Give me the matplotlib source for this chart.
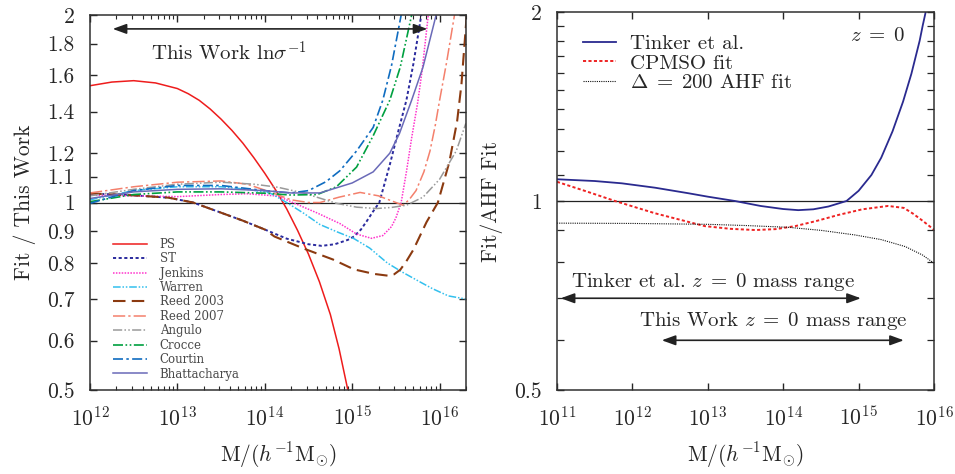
import matplotlib
matplotlib.use("Agg")
import matplotlib.pyplot as plt
import numpy as np
from matplotlib.ticker import FixedLocator, NullLocator, NullFormatter, LogLocator

plt.rcParams.update(
    {
        "font.family": "serif",
        "font.serif": ["cmr10", "DejaVu Serif"],
        "mathtext.fontset": "cm",
        "axes.formatter.use_mathtext": True,
        "axes.unicode_minus": False,
        "font.size": 15,
        "text.color": "#262626",
        "axes.labelcolor": "#262626",
        "xtick.color": "#262626",
        "ytick.color": "#262626",
        "axes.edgecolor": "#303030",
        "axes.linewidth": 1.1,
    }
)

# ---- left panel: fit / this work ratio (x = log10 M) ----
ps_x = [12.0, 12.25, 12.5, 12.75, 13.0, 13.125, 13.25, 13.375, 13.5, 13.625, 13.75, 13.875,
        14.0, 14.125, 14.25, 14.375, 14.5, 14.625, 14.75, 14.85, 14.95]
ps_y = [1.540, 1.561, 1.569, 1.556, 1.524, 1.495, 1.459, 1.413, 1.361, 1.305, 1.245, 1.180,
        1.114, 1.047, 0.977, 0.902, 0.826, 0.746, 0.661, 0.582, 0.50]

st_x = [12.0, 12.5, 12.9, 13.18, 13.5, 13.75, 14.0, 14.25, 14.5, 14.65, 14.8, 14.95, 15.02,
        15.1, 15.17, 15.24, 15.31, 15.43, 15.52, 15.62, 15.7, 15.77, 15.79]
st_y = [1.034, 1.027, 1.018, 1.0, 0.963, 0.935, 0.905, 0.875, 0.857, 0.852, 0.857, 0.871, 0.882,
        0.905, 0.935, 0.968, 1.0, 1.15, 1.29, 1.46, 1.67, 1.92, 2.0]

jenkins_x = [12.0, 12.5, 13.0, 13.5, 13.8, 14.15, 14.32, 14.6, 14.86, 15.05, 15.22, 15.35, 15.45,
             15.5, 15.56, 15.62, 15.68, 15.75, 15.8, 15.87]
jenkins_y = [1.028, 1.025, 1.022, 1.03, 1.033, 1.024, 1.0, 0.962, 0.925, 0.89, 0.876, 0.885, 0.915,
             0.945, 1.0, 1.12, 1.27, 1.45, 1.63, 2.0]

warren_x = [12.0, 12.5, 13.0, 13.5, 13.8, 14.06, 14.25, 14.45, 14.63, 14.82, 15.02, 15.2, 15.4,
            15.56, 15.78, 15.92, 16.1, 16.3]
warren_y = [1.01, 1.045, 1.06, 1.06, 1.05, 1.036, 1.0, 0.96, 0.922, 0.898, 0.875, 0.845, 0.80,
            0.775, 0.745, 0.727, 0.708, 0.70]

reed03_x = [12.0, 12.5, 12.9, 13.18, 13.5, 13.75, 14.0, 14.11, 14.45, 14.78, 15.02, 15.25, 15.41,
            15.48, 15.55, 15.62, 15.7, 15.85, 15.98, 16.11, 16.2, 16.25, 16.31]
reed03_y = [1.034, 1.027, 1.018, 1.0, 0.963, 0.935, 0.905, 0.882, 0.843, 0.81, 0.781, 0.768, 0.763,
            0.767, 0.78, 0.805, 0.84, 0.93, 1.0, 1.16, 1.35, 1.55, 2.0]

reed07_x = [12.0, 12.5, 13.0, 13.5, 13.8, 14.06, 14.3, 14.5, 14.63, 14.85, 15.09, 15.3, 15.5,
            15.58, 15.65, 15.73, 15.82, 15.89, 15.95, 16.0, 16.08, 16.17]
reed07_y = [1.036, 1.06, 1.078, 1.083, 1.07, 1.04, 1.01, 1.0, 1.0, 1.02, 1.038, 1.025, 1.0,
            0.99, 1.01, 1.045, 1.12, 1.21, 1.33, 1.46, 1.68, 2.0]

angulo_x = [12.0, 12.5, 13.0, 13.5, 13.88, 14.15, 14.44, 14.82, 15.05, 15.28, 15.45, 15.62, 15.81,
            16.0, 16.19, 16.3]
angulo_y = [1.025, 1.05, 1.07, 1.078, 1.07, 1.058, 1.036, 0.997, 0.983, 0.978, 0.982, 0.99, 1.02,
            1.09, 1.21, 1.34]

crocce_x = [12.0, 12.5, 13.0, 13.5, 14.0, 14.3, 14.6, 14.82, 15.05, 15.24, 15.43, 15.55, 15.68]
crocce_y = [1.003, 1.03, 1.04, 1.04, 1.035, 1.028, 1.03, 1.06, 1.14, 1.28, 1.46, 1.65, 2.0]

courtin_x = [12.0, 12.5, 13.0, 13.5, 14.0, 14.3, 14.5, 14.7, 14.86, 15.05, 15.24, 15.35, 15.45, 15.56]
courtin_y = [0.997, 1.045, 1.065, 1.065, 1.045, 1.036, 1.045, 1.08, 1.125, 1.21, 1.32, 1.46, 1.66, 2.0]

bhatt_x = [12.0, 12.5, 13.0, 13.5, 14.0, 14.3, 14.63, 14.86, 15.0, 15.24, 15.43, 15.54, 15.68,
           15.81, 15.92, 15.96]
bhatt_y = [1.015, 1.04, 1.05, 1.052, 1.045, 1.036, 1.036, 1.06, 1.075, 1.12, 1.2, 1.29, 1.46,
           1.65, 1.9, 2.0]

left_yticks = [0.5, 0.6, 0.7, 0.8, 0.9, 1, 1.1, 1.2, 1.4, 1.6, 1.8, 2]
left_yticklabels = ["0.5", "0.6", "0.7", "0.8", "0.9", "1", "1.1", "1.2", "1.4", "1.6", "1.8", "2"]

# ---- right panel: fit / AHF fit ----
tinker_x = [11.0, 11.5, 11.86, 12.3, 12.74, 13.0, 13.36, 13.7, 14.0, 14.2, 14.4, 14.6, 14.84,
            15.0, 15.17, 15.3, 15.45, 15.59, 15.7, 15.81, 15.85, 15.89]
tinker_y = [1.083, 1.076, 1.067, 1.05, 1.029, 1.016, 1.0, 0.982, 0.971, 0.967, 0.97, 0.98, 1.0,
            1.038, 1.10, 1.172, 1.291, 1.44, 1.594, 1.80, 1.902, 2.0]

cpmso_x = [11.0, 11.4, 11.77, 12.3, 12.96, 13.3, 13.63, 13.9, 14.16, 14.45, 14.73, 15.05, 15.39,
           15.6, 15.72, 15.85, 16.0]
cpmso_y = [1.073, 1.035, 1.0, 0.956, 0.912, 0.903, 0.899, 0.902, 0.912, 0.93, 0.95, 0.97, 0.982,
           0.975, 0.955, 0.93, 0.90]

ahf_x = [11.0, 12.0, 13.0, 13.5, 14.07, 14.5, 14.95, 15.3, 15.62, 15.85, 16.0]
ahf_y = [0.922, 0.921, 0.918, 0.914, 0.908, 0.898, 0.883, 0.868, 0.846, 0.82, 0.796]

right_minor_yticks = [0.6, 0.7, 0.8, 0.9, 1.1, 1.2, 1.3, 1.4, 1.5, 1.6, 1.7, 1.8, 1.9]

LEFT_SERIES = [
    ("PS", ps_x, ps_y, "#ee1c1c", "-", 1.1),
    ("ST", st_x, st_y, "#2b2b9e", (0, (1.6, 1.3)), 1.4),
    ("Jenkins", jenkins_x, jenkins_y, "#ff33cc", (0, (1, 0.9)), 1.1),
    ("Warren", warren_x, warren_y, "#33c0ee", (0, (5, 1.2, 1, 1.2, 1, 1.2)), 1.1),
    ("Reed 2003", reed03_x, reed03_y, "#8b3a10", (0, (6, 3)), 1.5),
    ("Reed 2007", reed07_x, reed07_y, "#f4806c", (0, (8, 2, 1.5, 2)), 1.1),
    ("Angulo", angulo_x, angulo_y, "#9a9a9a", (0, (6, 1.5, 1, 1.5, 1, 1.5)), 1.1),
    ("Crocce", crocce_x, crocce_y, "#00a040", (0, (6, 1.5, 1, 1.5, 1, 1.5)), 1.2),
    ("Courtin", courtin_x, courtin_y, "#0f6cc0", (0, (6, 2, 1.5, 2)), 1.2),
    ("Bhattacharya", bhatt_x, bhatt_y, "#6a6ab8", "-", 1.1),
]

ARROW = dict(arrowstyle="<|-|>,head_length=0.55,head_width=0.2", color="#222222",
             lw=1.2, shrinkA=0, shrinkB=0)


def mass(logm):
    return 10.0 ** np.asarray(logm)


fig = plt.figure(figsize=(9.55, 4.74), dpi=100)
ax1 = fig.add_axes([0.0942, 0.1772, 0.3937, 0.7911])
ax2 = fig.add_axes([0.5832, 0.1772, 0.3948, 0.7975])

# left panel
ax1.axhline(1.0, color="#222222", lw=0.9, zorder=1)
for label, xs, ys, color, ls, lw in LEFT_SERIES:
    ax1.plot(mass(xs), ys, color=color, linestyle=ls, linewidth=lw, label=label)

ax1.set_xscale("log")
ax1.set_yscale("log")
ax1.set_xlim(1e12, 2e16)
ax1.set_ylim(0.5, 2.0)
ax1.yaxis.set_major_locator(FixedLocator(left_yticks))
ax1.set_yticklabels(left_yticklabels)
ax1.yaxis.set_minor_locator(NullLocator())
ax1.yaxis.set_minor_formatter(NullFormatter())
ax1.xaxis.set_major_locator(LogLocator(base=10, numticks=10))
ax1.xaxis.set_minor_locator(LogLocator(base=10, subs=np.arange(2, 10), numticks=20))
ax1.xaxis.set_minor_formatter(NullFormatter())
ax1.tick_params(which="both", direction="in", top=True, right=True, labelsize=15.5, pad=11)
ax1.tick_params(which="major", length=5, width=1.0)
ax1.tick_params(which="minor", length=3, width=0.8)
ax1.set_xlabel(r"$\mathrm{M}/(h^{-1}\mathrm{M}_{\odot})$", fontsize=15.5, labelpad=8)
ax1.set_ylabel("Fit / This Work", fontsize=15.5, labelpad=8)

ax1.annotate("", xy=(10 ** 12.26, 1.90), xytext=(10 ** 15.86, 1.90), arrowprops=ARROW)
ax1.text(10 ** 13.59, 1.74, r"This Work ln$\sigma^{-1}$", ha="center", va="center", fontsize=15)

ax1.legend(
    loc="lower left", bbox_to_anchor=(0.035, 0.0), frameon=False,
    prop={"family": "DejaVu Serif", "size": 8.5}, labelcolor="#4a4a4a",
    handlelength=2.9, handletextpad=1.1, labelspacing=0.12, borderpad=0.3,
)

# right panel
ax2.axhline(1.0, color="#222222", lw=0.9, zorder=1)
ax2.plot(mass(tinker_x), tinker_y, color="#2a2a8f", lw=1.3, label="Tinker et al.")
ax2.plot(mass(cpmso_x), cpmso_y, color="#ee2222", lw=1.4, linestyle=(0, (1.6, 1.2)),
         label="CPMSO fit")
ax2.plot(mass(ahf_x), ahf_y, color="#111111", lw=0.8, linestyle=(0, (1, 1)),
         label=r"$\Delta\;=\;200$ AHF fit")

ax2.set_xscale("log")
ax2.set_yscale("log")
ax2.set_xlim(1e11, 1e16)
ax2.set_ylim(0.5, 2.0)
ax2.yaxis.set_major_locator(FixedLocator([0.5, 1, 2]))
ax2.set_yticklabels(["0.5", "1", "2"])
ax2.yaxis.set_minor_locator(FixedLocator(right_minor_yticks))
ax2.yaxis.set_minor_formatter(NullFormatter())
ax2.xaxis.set_major_locator(LogLocator(base=10, numticks=10))
ax2.xaxis.set_minor_locator(NullLocator())
ax2.tick_params(which="both", direction="in", top=True, right=True, labelsize=15.5, pad=11)
ax2.tick_params(which="major", length=5, width=1.0)
ax2.tick_params(which="minor", length=5, width=0.9)
ax2.set_xlabel(r"$\mathrm{M}/(h^{-1}\mathrm{M}_{\odot})$", fontsize=15.5, labelpad=8)
ax2.set_ylabel("Fit/AHF Fit", fontsize=15.5, labelpad=8)

ax2.legend(
    loc="upper left", bbox_to_anchor=(0.025, 0.985), frameon=False, fontsize=15,
    handlelength=1.6, handletextpad=0.65, labelspacing=0.05, borderpad=0.3,
)
ax2.text(0.849, 0.937, r"$z\;=\;0$", transform=ax2.transAxes, ha="center", va="center",
         fontsize=15)

ax2.annotate("", xy=(10 ** 11.05, 0.70), xytext=(10 ** 15.03, 0.70), arrowprops=ARROW)
ax2.text(10 ** 13.07, 0.744, r"Tinker et al. $z\;=\;0$ mass range", ha="center", va="center",
         fontsize=15)
ax2.annotate("", xy=(10 ** 12.39, 0.60), xytext=(10 ** 15.6, 0.60), arrowprops=ARROW)
ax2.text(10 ** 13.87, 0.645, r"This Work $z\;=\;0$ mass range", ha="center", va="center",
         fontsize=15)

fig.savefig("out.png", dpi=100)
